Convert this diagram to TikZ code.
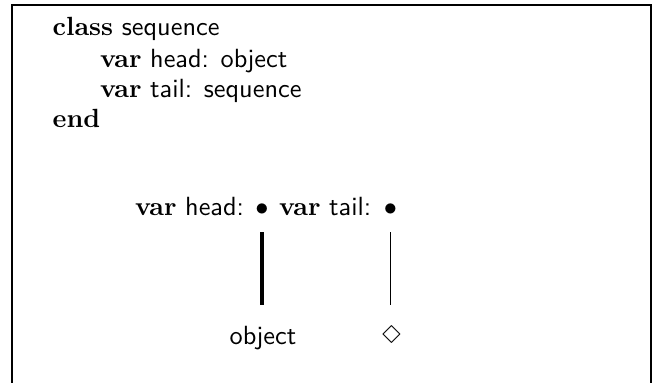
\documentclass[tikz,border=0pt]{standalone}
\usepackage{latexsym}
\newcommand\kwd[1]{\textrm{\bfseries #1}}
\begin{document}
\begin{tikzpicture}[x=0.3802pt,y=-0.3802pt,
  txt/.style={font=\sffamily,inner sep=0pt,outer sep=0pt,anchor=base west},
  sym/.style={inner sep=0pt,outer sep=0pt,anchor=base},
  frame/.style={draw,line width=0.76pt},
  headlink/.style={line width=1.15pt},
  taillink/.style={line width=0.75pt}]
\useasboundingbox (0,0) rectangle (655,383);
\clip (0,0) rectangle (655,383);
\draw[frame] (12,5) rectangle (651,420);
% class text
\node[txt] (l1) at (52.7,36) {\kwd{class} sequence};
\node[txt] (l2) at (100,68) {\kwd{var} head: object};
\node[txt] (l3) at (100,98) {\kwd{var} tail: sequence};
\node[txt] (l4) at (52.7,128) {\kwd{end}};
% diagram
\node[txt] (hlab) at (135,216) {\kwd{var} head:};
\node[sym] (hdot) at (262,216) {$\bullet$};
\node[txt] (tlab) at (279,216) {\kwd{var} tail:};
\node[sym] (tdot) at (390.5,216) {$\bullet$};
\node[sym,font=\sffamily] (obj) at (263,345) {object};
\node[sym] (dia) at (391.5,344) {$\Diamond$};
\draw[headlink,shorten <=6.1pt,shorten >=8.2pt] (hdot.south) -- (hdot.south |- obj.north);
\draw[taillink,shorten <=6.1pt,shorten >=8.2pt] (tdot.south) -- (tdot.south |- obj.north);
\end{tikzpicture}
\end{document}
